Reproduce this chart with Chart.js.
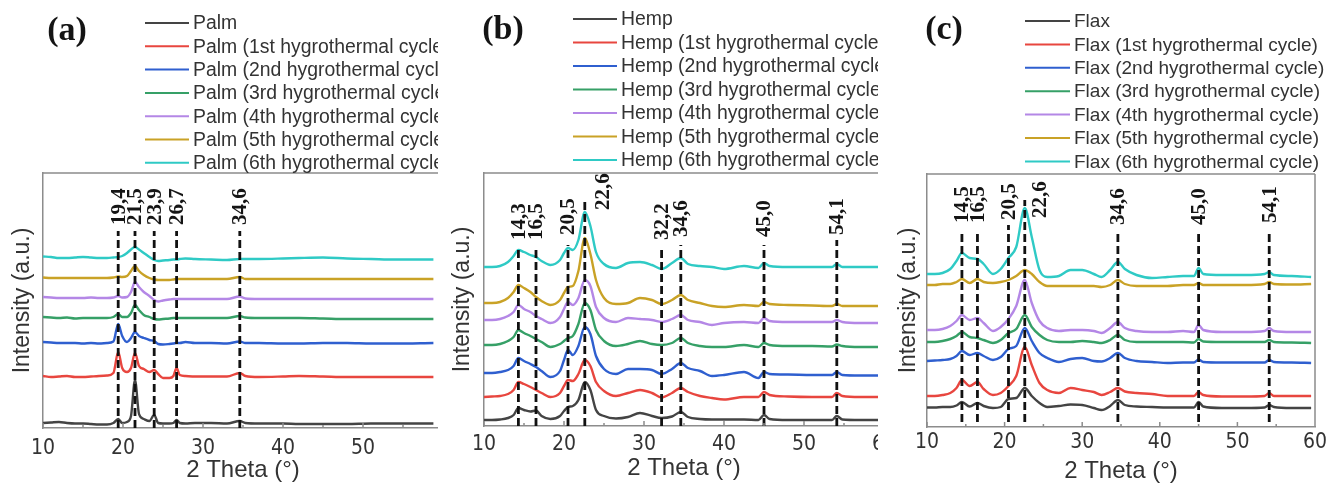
<!DOCTYPE html>
<html>
<head>
<meta charset="utf-8">
<script src="https://cdn.jsdelivr.net/npm/chart.js@4.4.1/dist/chart.umd.min.js"></script>
<style>
  html, body { margin: 0; padding: 0; background: #fff; width: 1328px; height: 486px; overflow: hidden; }
  .panel { position: absolute; top: 0; height: 486px; overflow: hidden; }
  .panel canvas { position: absolute; top: 0; left: 0; }
</style>
</head>
<body>
<div class="panel" style="left:0;width:438px"><canvas id="chartPalm" width="464" height="486"></canvas></div>
<div class="panel" style="left:440px;width:438px"><canvas id="chartHemp" width="462" height="486"></canvas></div>
<div class="panel" style="left:886px;width:442px"><canvas id="chartFlax" width="442" height="486"></canvas></div>
<script>
// ---- shared ----
const palmTicks = [10, 20, 30, 40, 50];
const xTickValues = [10, 20, 30, 40, 50, 60];
const cycleSuffixes = ['', ' (1st hygrothermal cycle)', ' (2nd hygrothermal cycle)', ' (3rd hygrothermal cycle)',
  ' (4th hygrothermal cycle)', ' (5th hygrothermal cycle)', ' (6th hygrothermal cycle)'];
const seriesColors = ['#444444', '#e8463f', '#2f5fcf', '#36a067', '#b487e6', '#c9a226', '#2fcac5'];

// ---- (a) Palm: 2θ grid and stacked intensities (a.u., offset per cycle) ----
const palmTheta = [10, 11, 12, 13, 14, 15, 16, 17, 18, 18.8, 19.4, 19.9, 20.5, 21.0, 21.5, 22.0, 22.6, 23.3, 23.9, 24.4,
  25.0, 25.8, 26.3, 26.7, 27.1, 27.8, 29, 31, 33, 34.6, 35.3, 37, 40, 42, 45, 48, 51, 54, 58.8];
const palm0 = [5, 5.5, 6, 5, 4.5, 4.5, 4, 3.5, 3.5, 5, 9, 5, 6, 12, 48, 14, 9, 7, 13, 5,
  4.5, 4.5, 5, 8, 5, 4.5, 5, 5, 4.5, 7, 5, 4.5, 4.5, 4, 4, 4, 4.5, 4.5, 4.5];
const palm1 = [52, 51, 51.5, 52, 51, 51, 51.5, 52, 52.5, 55, 76, 60, 56, 60, 75, 62, 59, 56, 58, 54,
  50, 50, 52, 60, 53, 52, 51.5, 51.5, 51.5, 55, 52, 51, 51.5, 52, 51.5, 51, 51, 51, 51];
const palm2 = [86, 85.5, 85, 85, 85, 84.5, 85, 84.5, 85, 86.5, 104, 92, 86, 90, 96, 92, 90, 88, 87, 84,
  83.5, 84, 84.5, 85, 85, 86, 85, 85, 84.5, 86.5, 85, 85, 84.5, 84.5, 85, 85, 84.5, 84.5, 85];
const palm3 = [111, 110.5, 110, 110.5, 109.5, 110, 110, 110, 110, 111, 114, 111, 111, 115, 123, 118, 113, 111, 109, 108.5,
  109, 109.5, 110, 110, 110, 110, 110, 110, 110, 112, 110.5, 110, 110, 110, 109.5, 109, 109, 109, 109];
const palm4 = [131, 130.5, 130, 130, 130, 130, 130.5, 130, 130, 130.5, 132, 130.5, 131, 136, 146, 141, 136, 132, 128, 126.5,
  127.5, 128.5, 129, 129, 129, 129, 129, 129, 129, 131.5, 129.5, 129, 129, 129, 129, 129, 129, 129, 129];
const palm5 = [150.5, 150, 150, 150, 150, 150, 150, 150, 150, 150.5, 151.5, 151, 152, 157, 162, 157, 153, 150, 148.5, 148,
  148, 148, 148.5, 149, 149, 149, 149, 149, 149, 151, 149, 149, 149, 149, 149, 149, 149, 149, 149];
const palm6 = [171.5, 171, 170, 170, 170.5, 171, 170.5, 170, 170, 170.5, 171, 172, 175, 178.5, 181, 178.5, 175, 171, 168, 167,
  167.5, 168, 168.5, 168.5, 169, 169.5, 169, 168.5, 168, 169, 169, 169, 169.5, 170, 170.5, 169.5, 169, 168.5, 168.5];
const palmPeaks = [19.4, 21.5, 23.9, 26.7, 34.6];
const palmPeakTop = [197, 197, 197, 197, 197];
const palmPeakLabelAt = [203, 203, 203, 203, 203];
const palmPeakLabelSide = [0, 0, 0, 0, 0];

// ---- (b) Hemp ----
const hempTheta = [10, 11, 12, 13, 13.7, 14.3, 15, 15.8, 16.5, 17.2, 18.3, 19.5, 20.0, 20.5, 21.1, 21.8, 22.6, 23.3, 24, 25,
  26.5, 28, 29.5, 31, 32.2, 33.5, 34.6, 35.5, 37, 38.5, 40, 42.5, 44.3, 45, 45.7, 48, 51, 53.5, 54.1, 54.8, 57, 60];
const hemp0 = [6, 6, 6.5, 8, 11, 18, 16, 14.5, 15.5, 10, 7, 10, 15, 19, 20, 26, 44, 36, 16, 10,
  7.5, 9, 13, 10, 8, 9.5, 14, 9, 7, 6.5, 6.5, 6.5, 6, 11, 7, 6, 6, 6, 10, 6.5, 6, 6];
const hemp1 = [29, 29.5, 30, 32, 36, 44, 42, 39, 36, 33, 29, 33, 40, 46, 45, 52, 66, 60, 44, 35,
  30, 33, 36, 33, 28.5, 33, 38, 34, 30, 28, 26.5, 29, 29, 34, 31, 29.5, 29, 29, 33, 30, 29, 29];
const hemp2 = [53, 53, 54, 56, 60, 68, 65, 62, 59, 55, 49, 55, 66, 76, 71, 80, 99, 92, 70, 57,
  52, 57, 57, 56, 52, 57, 63, 58, 55, 50, 51, 54, 48, 54, 52, 51.5, 51, 51, 54, 51, 50.5, 50.5];
const hemp3 = [81, 81, 82, 85, 89, 96, 93, 90, 87, 84, 79, 82, 85, 88, 90, 102, 123, 116, 96, 85,
  80, 82, 85, 82, 81, 83, 88, 83, 80, 79, 79, 81, 79, 83, 81, 80, 80, 79.5, 81.5, 80, 79, 79];
const hemp4 = [106, 106, 107, 110, 114, 121, 117, 114, 110, 107, 103, 109, 117, 124, 121, 128, 146, 140, 119, 108,
  104, 108, 107, 106, 104, 107, 111, 106, 104, 101, 103, 104, 103, 108, 105, 104, 104, 104, 106, 104, 103, 103];
const hemp5 = [123, 123, 124, 128, 134, 141, 138, 134, 129, 125, 121, 126, 133, 139, 140, 155, 188, 172, 146, 128,
  122, 123, 128, 126, 122, 126, 131, 126, 123, 120, 119, 121, 120, 124, 122, 121, 120.5, 120, 122, 120, 120, 120];
const hemp6 = [159, 159, 160, 164, 170, 176, 174, 171, 169, 165, 161, 166, 173, 178, 176, 186, 214, 200, 174, 162,
  158, 163, 164, 161, 157, 163, 168, 162, 160, 159, 157, 160, 158, 163, 160, 159, 159, 159, 162, 159, 159, 159];
const hempPeaks = [14.3, 16.5, 20.5, 22.6, 32.2, 34.6, 45.0, 54.1];
const hempPeakTop = [176, 176, 181, 226, 176, 181, 181, 186];
const hempPeakLabelAt = [186, 186, 191, 216, 186, 189, 189, 191];
const hempPeakLabelSide = [0, 0, 0, 1, 0, 0, 0, 0];

// ---- (c) Flax ----
const flaxTheta = [10, 11, 12, 13, 13.8, 14.5, 15.5, 16.5, 17.3, 18.5, 19.5, 20.5, 21.5, 22.6, 23.5, 24.5, 25.5, 27, 28.5, 30,
  31.5, 32.5, 33.6, 34.6, 35.5, 37, 39, 41, 43, 44.4, 45, 45.6, 48, 51, 53.5, 54.1, 54.7, 57, 59.5];
const flax0 = [19.5, 19.5, 20, 20, 21.5, 25, 20.5, 24, 21, 19, 20, 28, 29, 39, 31, 24, 20, 21, 22.5, 22,
  19, 17, 21, 27, 22, 20.5, 20, 19.5, 19.5, 19.5, 25, 20.5, 19, 19, 19.5, 22, 20, 19, 19];
const flax1 = [31, 31, 32, 34, 39, 47, 41, 45, 38, 32, 34, 41, 51, 80, 62, 44, 37, 34, 39, 37,
  35, 32, 35, 39, 35.5, 34, 33, 31, 31, 31, 35, 32, 30.5, 30.5, 31, 34, 31, 31, 31];
const flax2 = [66, 66.5, 67, 68, 71, 76, 72, 74, 71, 67, 70, 78, 81, 99, 86, 74, 69, 65, 68, 69,
  66, 65.5, 69, 74, 69, 66, 65, 64, 64.5, 64.5, 67.5, 65, 64.5, 64.5, 64.5, 67, 65, 64.5, 64];
const flax3 = [85, 85, 86, 88, 91, 95, 90, 89, 87, 84, 87, 94, 98, 112, 100, 92, 87, 85, 85, 86,
  85, 84, 87, 92, 87, 85, 85, 85, 85, 84.5, 88, 85.5, 85, 85, 85, 87, 85, 84.5, 84];
const flax4 = [97, 97, 98, 101, 106, 112, 107, 109, 104, 96, 100, 108, 121, 147, 124, 106, 99, 96, 97, 97,
  96, 94, 99, 105, 99, 96, 95, 95, 96, 95, 102, 97, 95, 95, 96, 99, 96, 95, 95];
const flax5 = [142, 142, 143, 143, 145, 148, 144, 148, 145, 144, 145, 147, 151, 157, 153, 145, 141, 141, 141, 141,
  141, 140, 142, 147, 143, 141, 141, 141, 142, 142, 144, 142, 142, 142, 143, 145, 143, 142.5, 143];
const flax6 = [153, 153, 154, 158, 166, 174, 169, 168, 163, 153, 158, 169, 180, 219, 190, 157, 150, 151, 157, 157,
  153, 150, 157, 165, 158, 152, 149, 150, 151, 151, 159, 153, 152, 152, 153, 155, 152, 151, 150];
const flaxPeaks = [14.5, 16.5, 20.5, 22.6, 34.6, 45.0, 54.1];
const flaxPeakTop = [194, 194, 202, 227, 195, 197, 197];
const flaxPeakLabelAt = [204, 204, 207, 209, 202, 202, 204];
const flaxPeakLabelSide = [0, 0, 0, 1, 0, 0, 0];

// ---- drawing helpers ----
const sansFamily = "'Liberation Sans', Arial, sans-serif";
const narrowFamily = "'Liberation Sans Narrow', 'Arial Narrow', 'DejaVu Sans Condensed', 'Liberation Sans', sans-serif";
const serifFamily = "'Liberation Serif', 'Times New Roman', serif";

// frame, inward ticks, peak labels, legend and panel tag
const panelDecor = {
  id: 'panelDecor',
  afterDraw(chart, args, opts) {
    const { ctx, chartArea: a, scales: { x } } = chart;
    ctx.save();
    ctx.strokeStyle = '#8c8c8c';
    ctx.lineWidth = 1.5;
    ctx.beginPath();
    ctx.moveTo(a.left, a.top);
    ctx.lineTo(a.right, a.top);
    if (opts.rightFrame) { ctx.moveTo(a.right, a.top); ctx.lineTo(a.right, a.bottom); }
    for (let v = x.min; v <= x.max + 1e-9; v += 5) {
      const px = x.getPixelForValue(v);
      const len = (v % 10 === 0) ? 5 : 3;
      ctx.moveTo(px, a.bottom);
      ctx.lineTo(px, a.bottom - len);
    }
    ctx.stroke();

    // rotated peak labels
    ctx.fillStyle = '#151515';
    ctx.font = 'bold 21px ' + serifFamily;
    ctx.textAlign = 'left';
    ctx.textBaseline = 'middle';
    chart.data.datasets.forEach(ds => {
      if (ds.peakValue === undefined) return;
      const px = x.getPixelForValue(ds.peakValue) + (ds.labelSide ? opts.sideShift : 0);
      const py = chart.scales.y.getPixelForValue(ds.labelAt);
      ctx.save();
      ctx.translate(px, py);
      ctx.rotate(-Math.PI / 2);
      ctx.fillText(ds.peakValue.toFixed(1).replace('.', ','), 0, 1);
      ctx.restore();
    });

    // legend
    ctx.font = opts.legendFont + 'px ' + sansFamily;
    ctx.textBaseline = 'middle';
    ctx.fillStyle = '#333';
    let row = 0;
    chart.data.datasets.forEach(ds => {
      if (!ds.isSeries) return;
      const ly = opts.legendY + row * opts.legendStep;
      ctx.strokeStyle = ds.borderColor;
      ctx.lineWidth = 2;
      ctx.beginPath();
      ctx.moveTo(opts.legendX, ly);
      ctx.lineTo(opts.legendX + opts.legendLine, ly);
      ctx.stroke();
      ctx.fillText(ds.label, opts.legendX + opts.legendLine + 4, ly + 1);
      row++;
    });

    // panel tag
    ctx.font = 'bold 34px ' + serifFamily;
    ctx.fillStyle = '#141414';
    ctx.textAlign = 'center';
    ctx.textBaseline = 'middle';
    ctx.fillText(opts.tag, opts.tagX, opts.tagY);
    ctx.restore();
  }
};

function buildPanel(canvasId, p) {
  const datasets = p.series.map((vals, i) => ({
    label: p.material + cycleSuffixes[i],
    isSeries: true,
    data: p.theta.map((t, j) => ({ x: t, y: vals[j] })),
    borderColor: seriesColors[i],
    borderWidth: 2.4,
    pointRadius: 0,
    cubicInterpolationMode: 'monotone',
    fill: false,
    order: 1
  }));
  p.peaks.forEach((pk, k) => {
    datasets.push({
      label: '',
      peakValue: pk,
      labelAt: p.peakLabelAt[k],
      labelSide: p.peakLabelSide[k],
      data: [{ x: pk, y: p.peakBase }, { x: pk, y: p.peakTop[k] }],
      borderColor: '#111',
      borderWidth: 2.8,
      borderDash: [8, 4],
      pointRadius: 0,
      fill: false,
      order: 0
    });
  });

  new Chart(document.getElementById(canvasId), {
    type: 'line',
    data: { datasets },
    options: {
      responsive: false,
      animation: false,
      events: [],
      layout: { padding: { left: 0, top: p.top, right: p.padRight, bottom: 0 } },
      plugins: {
        legend: { display: false },
        tooltip: { enabled: false },
        panelDecor: p.decor
      },
      scales: {
        x: {
          type: 'linear',
          min: 10,
          max: 60,
          afterBuildTicks: s => { s.ticks = p.ticks.map(v => ({ value: v })); },
          afterFit: s => { s.height = p.xAxisH; s.paddingLeft = 0; s.paddingRight = 0; },
          ticks: {
            color: '#333',
            padding: p.tickPad,
            maxRotation: 0,
            font: { family: narrowFamily, size: 21 }
          },
          grid: { display: false, drawTicks: false },
          border: { display: true, color: '#8c8c8c', width: 1.5 },
          title: {
            display: true,
            text: '2 Theta (°)',
            color: '#333',
            font: { family: sansFamily, size: 24 },
            padding: { top: 0, bottom: p.titlePadBottom }
          }
        },
        y: {
          min: 0,
          max: p.yMax,
          afterFit: s => { s.width = p.yAxisW; },
          ticks: { display: false },
          grid: { display: false, drawTicks: false },
          border: { display: true, color: '#8c8c8c', width: 1.5 },
          title: {
            display: true,
            text: 'Intensity (a.u.)',
            color: '#333',
            font: { family: sansFamily, size: 23 },
            padding: { top: 9, bottom: 0 }
          }
        }
      }
    },
    plugins: [panelDecor]
  });
}

buildPanel('chartPalm', {
  material: 'Palm',
  theta: palmTheta,
  series: [palm0, palm1, palm2, palm3, palm4, palm5, palm6],
  peaks: palmPeaks, peakTop: palmPeakTop, peakLabelAt: palmPeakLabelAt, peakLabelSide: palmPeakLabelSide,
  peakBase: 0, ticks: palmTicks,
  top: 173, padRight: 21, xAxisH: 58, yAxisW: 43, yMax: 255, tickPad: 8, titlePadBottom: 1,
  decor: { tag: '(a)', tagX: 67, tagY: 31, legendX: 145, legendY: 23, legendStep: 23.3, legendLine: 44,
           legendFont: 19.4, sideShift: 16, rightFrame: false }
});

buildPanel('chartHemp', {
  material: 'Hemp',
  theta: hempTheta,
  series: [hemp0, hemp1, hemp2, hemp3, hemp4, hemp5, hemp6],
  peaks: hempPeaks, peakTop: hempPeakTop, peakLabelAt: hempPeakLabelAt, peakLabelSide: hempPeakLabelSide,
  peakBase: 0, ticks: xTickValues,
  top: 173, padRight: 18, xAxisH: 60, yAxisW: 44, yMax: 253, tickPad: 6, titlePadBottom: 3,
  decor: { tag: '(b)', tagX: 63, tagY: 30, legendX: 133, legendY: 19, legendStep: 23.5, legendLine: 44,
           legendFont: 19.4, sideShift: 18, rightFrame: false }
});

buildPanel('chartFlax', {
  material: 'Flax',
  theta: flaxTheta,
  series: [flax0, flax1, flax2, flax3, flax4, flax5, flax6],
  peaks: flaxPeaks, peakTop: flaxPeakTop, peakLabelAt: flaxPeakLabelAt, peakLabelSide: flaxPeakLabelSide,
  peakBase: 5, ticks: xTickValues,
  top: 174, padRight: 13, xAxisH: 59, yAxisW: 41, yMax: 253, tickPad: 3, titlePadBottom: 0,
  decor: { tag: '(c)', tagX: 58, tagY: 30, legendX: 139, legendY: 21, legendStep: 23.4, legendLine: 45,
           legendFont: 19, sideShift: 15, rightFrame: true }
});
</script>
</body>
</html>
